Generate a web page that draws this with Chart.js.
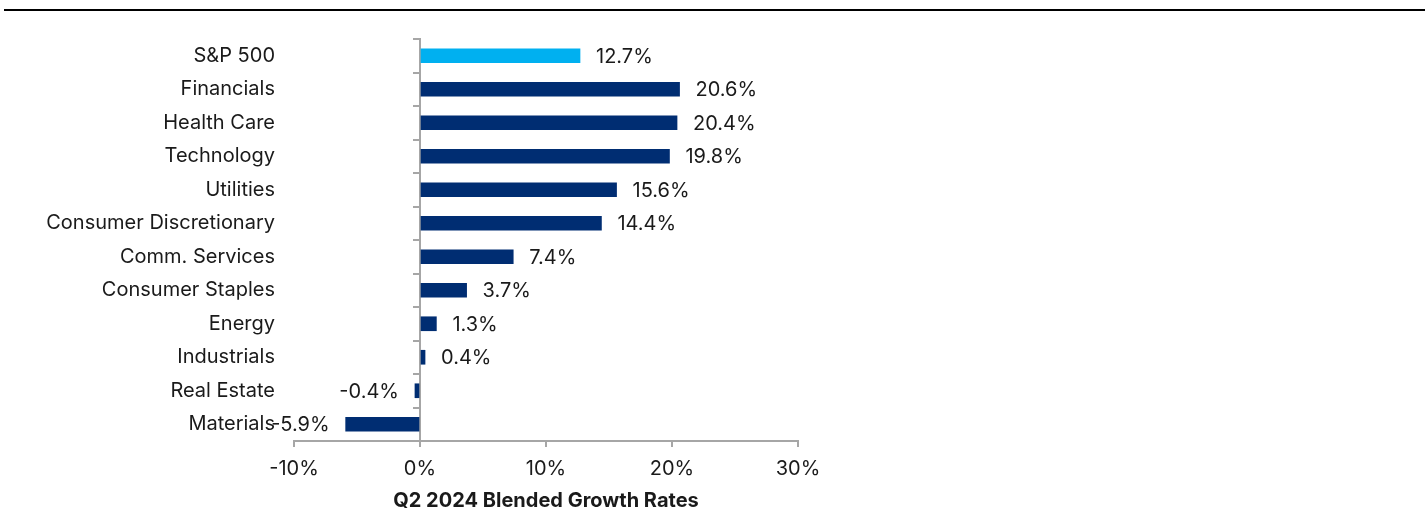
<!DOCTYPE html>
<html>
<head>
<meta charset="utf-8">
<script src="https://cdn.jsdelivr.net/npm/chart.js@4/dist/chart.umd.min.js"></script>
<style>
  html, body { margin: 0; padding: 0; background: #fff; }
  #wrap { position: relative; width: 1426px; height: 522px; }
  #topline { position: absolute; left: 4px; top: 9px; width: 1421px; height: 2px; background: #000; }
  #c { position: absolute; left: 0; top: 0; }
</style>
</head>
<body>
<div id="wrap">
  <canvas id="c" width="1426" height="522"></canvas>
  <div id="topline"></div>
</div>
<script>
const categories = ["S&P 500", "Financials", "Health Care", "Technology", "Utilities",
  "Consumer Discretionary", "Comm. Services", "Consumer Staples", "Energy",
  "Industrials", "Real Estate", "Materials"];
const growthRates = [12.7, 20.6, 20.4, 19.8, 15.6, 14.4, 7.4, 3.7, 1.3, 0.4, -0.4, -5.9];
const xTicks = [-10, 0, 10, 20, 30];
const axisTitle = "Q2 2024 Blended Growth Rates";

const FONT = "Inter, 'Liberation Sans', Arial, sans-serif";
const TEXT = "#1a1a1a";
const AXIS = "#a6a6a6";
const barColors = categories.map((c, i) => i === 0 ? "#00b0f0" : "#002d72");

const valueLabels = {
  id: "valueLabels",
  afterDatasetsDraw(chart) {
    const ctx = chart.ctx;
    const meta = chart.getDatasetMeta(0);
    ctx.save();
    ctx.font = "20px " + FONT;
    ctx.fillStyle = TEXT;
    ctx.textBaseline = "middle";
    meta.data.forEach((bar, i) => {
      const v = growthRates[i];
      const txt = v.toFixed(1) + "%";
      if (v >= 0) { ctx.textAlign = "left"; ctx.fillText(txt, bar.x + 16, bar.y + 1); }
      else { ctx.textAlign = "right"; ctx.fillText(txt, bar.x - 16, bar.y + 1); }
    });
    ctx.restore();
  }
};

new Chart(document.getElementById("c"), {
  type: "bar",
  data: {
    labels: categories,
    datasets: [{
      data: growthRates,
      backgroundColor: barColors,
      borderWidth: 0,
      barThickness: 14,
      yAxisID: "y"
    }]
  },
  options: {
    indexAxis: "y",
    responsive: false,
    animation: false,
    layout: { padding: { left: 0, right: 628, top: 39, bottom: 0 } },
    plugins: { legend: { display: false }, tooltip: { enabled: false } },
    scales: {
      x: {
        type: "linear",
        min: -10, max: 30,
        afterBuildTicks(scale) { scale.ticks = xTicks.map(v => ({ value: v })); },
        afterFit(scale) { scale.height = 81; },
        ticks: {
          callback: v => v + "%",
          font: { size: 20, family: FONT },
          color: TEXT,
          padding: 10,
          maxRotation: 0
        },
        grid: { drawOnChartArea: false, drawTicks: true, tickLength: 6, color: AXIS, lineWidth: 2 },
        border: { display: true, color: AXIS, width: 2 },
        title: {
          display: true,
          text: axisTitle,
          font: { size: 20, weight: "bold", family: FONT },
          color: TEXT,
          padding: { top: 0, bottom: 9 }
        }
      },
      y: {
        type: "category",
        position: "left",
        afterFit(scale) { scale.width = 294; },
        ticks: { font: { size: 20, family: FONT }, color: TEXT, padding: 19 },
        grid: { display: false, drawTicks: false },
        border: { display: false }
      },
      y2: {
        type: "category",
        labels: categories,
        position: { x: 0 },
        ticks: { display: false },
        grid: { offset: true, drawOnChartArea: false, drawTicks: true, tickLength: 6, color: AXIS, lineWidth: 2 },
        border: { display: true, color: AXIS, width: 2 }
      }
    }
  },
  plugins: [valueLabels]
});
</script>
</body>
</html>
